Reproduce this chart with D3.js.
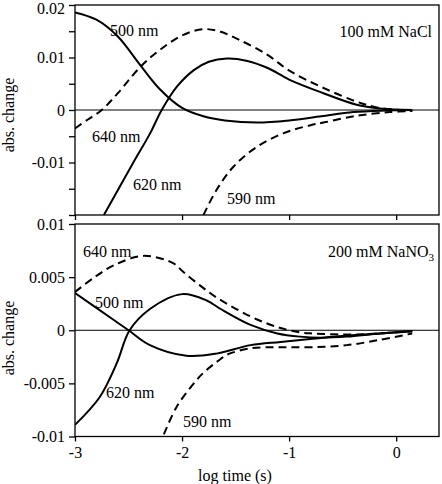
<!DOCTYPE html>
<html>
<head>
<meta charset="utf-8">
<script src="https://cdn.jsdelivr.net/npm/d3@7"></script>
<style>
  html, body { margin: 0; padding: 0; background: #fff; }
  svg { display: block; }
</style>
</head>
<body>
<div id="chart"></div>
<script>
// ---------------- data ----------------
const xTicks = [-3, -2, -1, 0];
const xTickLabels = ["-3", "-2", "-1", "0"];

// Top panel: 100 mM NaCl
const topT500 = [-3, -2.8, -2.6, -2.4, -2.2, -2.0, -1.8, -1.6, -1.3, -1.0, -0.7, -0.4, -0.1, 0.15];
const topV500 = [0.0186, 0.0172, 0.0140, 0.0088, 0.0038, 0.0004, -0.0012, -0.0020, -0.0024, -0.0020, -0.0012, -0.0004, -0.0001, 0];

const topT620 = [-2.73, -2.455, -2.30, -2.19, -2.05, -1.89, -1.75, -1.58, -1.40, -1.20, -1.0, -0.68, -0.37, -0.15, 0.15];
const topV620 = [-0.020, -0.0100, -0.0045, 0, 0.0044, 0.0076, 0.0092, 0.0098, 0.0094, 0.0080, 0.0058, 0.0032, 0.0010, 0.0003, 0];

const topT640 = [-3, -2.88, -2.75, -2.6, -2.39, -2.21, -2.0, -1.8, -1.64, -1.46, -1.21, -0.99, -0.68, -0.37, -0.18, 0.15];
const topV640 = [-0.0035, -0.0018, 0, 0.0032, 0.0082, 0.0114, 0.0142, 0.0154, 0.0149, 0.0133, 0.0106, 0.0074, 0.0042, 0.0016, 0.0005, -0.0002];

const topT590 = [-1.80, -1.68, -1.52, -1.30, -1.05, -0.80, -0.68, -0.37, -0.06, 0.15];
const topV590 = [-0.020, -0.0153, -0.0108, -0.0070, -0.0044, -0.0029, -0.0024, -0.0011, -0.0004, -0.0002];

// Bottom panel: 200 mM NaNO3
const botT640 = [-3, -2.83, -2.64, -2.36, -2.08, -1.99, -1.83, -1.68, -1.36, -1.11, -0.90, -0.78, -0.46, -0.15, 0.15];
const botV640 = [0.0036, 0.0049, 0.0061, 0.0070, 0.0063, 0.0055, 0.0042, 0.0031, 0.0013, 0.0003, -0.0002, -0.0003, -0.0004, -0.0003, -0.0001];

const botT500 = [-3, -2.77, -2.50, -2.30, -1.96, -1.68, -1.36, -1.08, -0.78, -0.46, -0.15, 0.15];
const botV500 = [0.0035, 0.0019, 0, -0.0014, -0.0024, -0.0022, -0.0014, -0.0011, -0.0008, -0.0005, -0.0003, -0.0001];

const botT620 = [-3, -2.77, -2.61, -2.49, -2.30, -2.0, -1.77, -1.64, -1.36, -1.11, -0.90, -0.70, -0.46, -0.15, 0.15];
const botV620 = [-0.0089, -0.0063, -0.0031, 0, 0.0020, 0.0034, 0.0028, 0.0020, 0.0005, -0.0003, -0.0006, -0.0007, -0.0006, -0.0003, -0.0001];

const botT590 = [-2.17, -2.05, -1.89, -1.80, -1.64, -1.58, -1.36, -1.08, -0.78, -0.46, -0.15, 0.15];
const botV590 = [-0.0098, -0.0072, -0.0050, -0.0040, -0.0027, -0.0023, -0.0017, -0.0016, -0.0016, -0.0014, -0.0009, -0.0003];

const topYTicks = [0.02, 0.015, 0.01, 0.005, 0, -0.005, -0.01, -0.015, -0.02];
const topYLabels = ["0.02", "", "0.01", "", "0", "", "-0.01", "", ""];
const botYTicks = [0.01, 0.005, 0, -0.005, -0.01];
const botYLabels = ["0.01", "0.005", "0", "-0.005", "-0.01"];

// ---------------- layout ----------------
const FONT = "Liberation Serif";
const W = 442, H = 484;
const svg = d3.select("#chart").append("svg").attr("width", W).attr("height", H);

const x = d3.scaleLinear().domain([-3, 0.4]).range([75, 439]);

const panels = [
  {
    top: 5, bottom: 215, domain: [-0.02, 0.02], yTicks: topYTicks, yLabels: topYLabels,
    series: [
      {t: topT500, v: topV500, dash: null},
      {t: topT620, v: topV620, dash: null},
      {t: topT640, v: topV640, dash: "8,5"},
      {t: topT590, v: topV590, dash: "8,5"}
    ],
    labels: [
      {s: "500 nm", x: 110, y: 36},
      {s: "640 nm", x: 92, y: 142},
      {s: "620 nm", x: 133, y: 190},
      {s: "590 nm", x: 227, y: 204}
    ],
    title: {main: "100 mM NaCl", sub: null, x: 432, y: 37},
    ylabelY: 115, xTickLabels: false
  },
  {
    top: 224, bottom: 436.5, domain: [-0.01, 0.01], yTicks: botYTicks, yLabels: botYLabels,
    series: [
      {t: botT640, v: botV640, dash: "8,5"},
      {t: botT500, v: botV500, dash: null},
      {t: botT620, v: botV620, dash: null},
      {t: botT590, v: botV590, dash: "8,5"}
    ],
    labels: [
      {s: "640 nm", x: 83, y: 257},
      {s: "500 nm", x: 95, y: 308},
      {s: "620 nm", x: 106, y: 398},
      {s: "590 nm", x: 183, y: 427}
    ],
    title: {main: "200 mM NaNO", sub: "3", x: 434, y: 257},
    ylabelY: 338, xTickLabels: true
  }
];

function txt(sel) {
  return sel.style("font-family", FONT).style("font-size", "16px").attr("fill", "#000");
}

panels.forEach((p, i) => {
  const y = d3.scaleLinear().domain(p.domain).range([p.bottom, p.top]);
  const g = svg.append("g");

  const clipId = "clip" + i;
  svg.append("clipPath").attr("id", clipId)
    .append("rect").attr("x", x.range()[0]).attr("y", p.top)
    .attr("width", x.range()[1] - x.range()[0]).attr("height", p.bottom - p.top);

  // zero line
  g.append("line")
    .attr("x1", x.range()[0]).attr("x2", x.range()[1])
    .attr("y1", y(0)).attr("y2", y(0))
    .attr("stroke", "#000").attr("stroke-width", 1);

  // curves
  const line = d3.line()
    .x(d => x(d[0])).y(d => y(d[1]))
    .curve(d3.curveCatmullRom.alpha(0.5));
  p.series.forEach(s => {
    const pts = s.t.map((t, k) => [t, s.v[k]]);
    g.append("path")
      .attr("d", line(pts))
      .attr("fill", "none")
      .attr("stroke", "#000")
      .attr("stroke-width", 2)
      .attr("stroke-dasharray", s.dash)
      .attr("clip-path", `url(#${clipId})`);
  });

  // frame
  g.append("rect")
    .attr("x", x.range()[0]).attr("y", p.top)
    .attr("width", x.range()[1] - x.range()[0]).attr("height", p.bottom - p.top)
    .attr("fill", "none").attr("stroke", "#000").attr("stroke-width", 1.3);

  // y axis
  const yAxis = d3.axisLeft(y).tickValues(p.yTicks).tickSize(6).tickPadding(4)
    .tickFormat((d, k) => p.yLabels[k]);
  const ya = svg.append("g").attr("transform", `translate(${x.range()[0]},0)`).call(yAxis);
  ya.select(".domain").remove();
  ya.selectAll("line").attr("stroke", "#000").attr("stroke-width", 1.3);
  txt(ya.selectAll("text"));
  if (i === 0) {
    ya.selectAll("text").filter((d, k) => k === 0).attr("dy", "0.55em");
  }

  // x axis
  const xAxis = d3.axisBottom(x).tickValues(xTicks).tickSize(5).tickPadding(5)
    .tickFormat((d, k) => p.xTickLabels ? xTickLabels[k] : "");
  const xa = svg.append("g").attr("transform", `translate(0,${p.bottom})`).call(xAxis);
  xa.select(".domain").remove();
  xa.selectAll("line").attr("stroke", "#000").attr("stroke-width", 1.3);
  txt(xa.selectAll("text"));

  // curve labels
  p.labels.forEach(l => {
    txt(svg.append("text").attr("x", l.x).attr("y", l.y)).text(l.s);
  });

  // title
  const tt = txt(svg.append("text").attr("x", p.title.x).attr("y", p.title.y)
    .attr("text-anchor", "end"));
  tt.append("tspan").text(p.title.main);
  if (p.title.sub) {
    tt.append("tspan").attr("dy", 4).style("font-size", "11px").text(p.title.sub);
  }

  // y label
  txt(svg.append("text")
    .attr("transform", `translate(14,${p.ylabelY}) rotate(-90)`)
    .attr("text-anchor", "middle"))
    .text("abs. change");
});

// x label
txt(svg.append("text").attr("x", 235).attr("y", 481)
  .attr("text-anchor", "middle"))
  .text("log time (s)");
</script>
</body>
</html>
